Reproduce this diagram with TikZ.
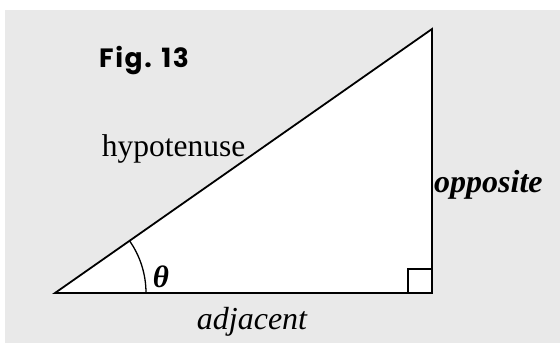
\documentclass[tikz,border=0pt]{standalone}
\usepackage{fontspec}
\setmainfont{Liberation Serif}
\newfontfamily\figfont[LetterSpace=6]{Poppins}
\definecolor{bggray}{RGB}{233,233,233}
\tikzset{
  side/.style={line width=1.8pt, line join=miter},
  lbl/.style={inner sep=0pt, anchor=base, font=\fontsize{31.5}{32}\selectfont},
}
\begin{document}
\begin{tikzpicture}[x=1pt,y=-1pt]
\useasboundingbox (0,0) rectangle (560,343);
\fill[white] (0,0) rectangle (560,343);
\fill[bggray] (5,10) rectangle (560,343);
\coordinate (A) at (55,293);
\coordinate (B) at (432,293);
\coordinate (C) at (432,29);
\fill[white] (A) -- (B) -- (C) -- cycle;
\draw[line width=1.3pt] (A) ++(91,0) arc[start angle=0, end angle=-35.0, radius=91];
\draw[line width=1.5pt] ([xshift=-24pt]B) rectangle ([yshift=24pt]B);
\draw[side] (A) -- (B) -- (C) -- cycle;
\node[lbl, anchor=base west, font=\figfont\bfseries\fontsize{26.5}{27}\selectfont] (fig) at (99,67) {Fig. 13};
\node[lbl] (hyp) at (173.5,156) {hypotenuse};
\node[lbl, anchor=base west, font=\fontsize{32}{32}\selectfont\bfseries\itshape] (opp) at (434,192) {opposite};
\node[lbl, font=\fontsize{32}{32}\selectfont\itshape] (adj) at (252,329) {adjacent};
\node[lbl, font=\fontsize{31}{32}\selectfont\bfseries\itshape] (th) at (161,287) {θ};
\end{tikzpicture}
\end{document}
